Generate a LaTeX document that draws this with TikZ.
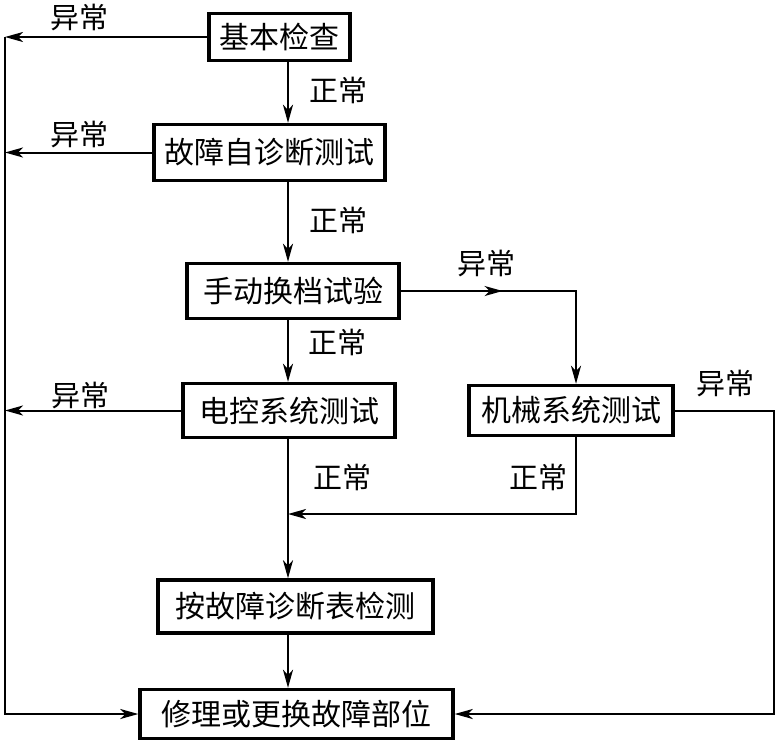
\documentclass[tikz,border=0pt]{standalone}
\usepackage{fontspec}
\setmainfont{Noto Sans CJK SC}
\usetikzlibrary{arrows.meta,decorations.markings}
\begin{document}
\begin{tikzpicture}[x=1pt,y=-1pt,
  box/.style={draw,line width=3.4pt,inner sep=0pt,font=\fontsize{30}{30}\selectfont},
  lbl/.style={inner sep=0pt,font=\fontsize{29}{29}\selectfont},
  conn/.style={line width=2pt},
  tip/.style={-{Stealth[length=18pt,width=10pt,inset=5pt]}},
  arr/.style={conn,tip},
  midarrow/.style={postaction={decorate},decoration={markings,
     mark=at position #1 with {\arrow{Stealth[length=18pt,width=10pt,inset=5pt]}}}}]
\useasboundingbox (0,0) rectangle (776,740);
\fill[white] (0,0) rectangle (776,740);

\coordinate (sp) at (288,0);
\coordinate (lft) at (5,0);
\coordinate (rgt) at (774,0);
\coordinate (mc) at (576,0);
\coordinate (mg) at (288,514);

\node[box,minimum width=141pt,minimum height=47pt] (b1) at (279.5,37) {基本检查};
\node[box,minimum width=231pt,minimum height=56pt] (b2) at (269.5,152.5) {故障自诊断测试};
\node[box,minimum width=212pt,minimum height=55pt] (b3) at (293,291) {手动换档试验};
\node[box,minimum width=212pt,minimum height=54pt] (b4) at (289,410.5) {电控系统测试};
\node[box,minimum width=204pt,minimum height=50pt] (b5) at (571,410.5) {机械系统测试};
\node[box,minimum width=275pt,minimum height=53pt] (b6) at (295.5,606.5) {按故障诊断表检测};
\node[box,minimum width=313pt,minimum height=49pt] (b7) at (296.5,714) {修理或更换故障部位};

% main spine
\draw[arr] (b1.south -| sp) -- (b2.north -| sp);
\draw[arr] (b2.south -| sp) -- (b3.north -| sp);
\draw[arr] (b3.south -| sp) -- (b4.north -| sp);
\draw[arr] (b4.south -| sp) -- (b6.north -| sp);
\draw[arr] (b6.south -| sp) -- (b7.north -| sp);

% left returns
\draw[arr] (b1.west) -- (b1.west -| lft);
\draw[arr] (b2.west) -- (b2.west -| lft);
\draw[arr] (b4.west) -- (b4.west -| lft);
\draw[arr] (b1.west -| lft) |- (b7.west);

% right branch
\draw[arr,midarrow=0.38] (b3.east) -- (b3.east -| mc) -- (b5.north -| mc);
\draw[arr] (b5.south -| mc) |- (mg);
\draw[arr] (b5.east) -- (b5.east -| rgt) |- (b7.east);

% labels
\node[lbl] (l1) at (79,18) {异常};
\node[lbl] (l2) at (338,90) {正常};
\node[lbl] (l3) at (79,135) {异常};
\node[lbl] (l4) at (338,220) {正常};
\node[lbl] (l5) at (486,264) {异常};
\node[lbl] (l6) at (337,342) {正常};
\node[lbl] (l7) at (80,395) {异常};
\node[lbl] (l8) at (725,383) {异常};
\node[lbl] (l9) at (342,477) {正常};
\node[lbl] (l10) at (538,477) {正常};
\end{tikzpicture}
\end{document}
